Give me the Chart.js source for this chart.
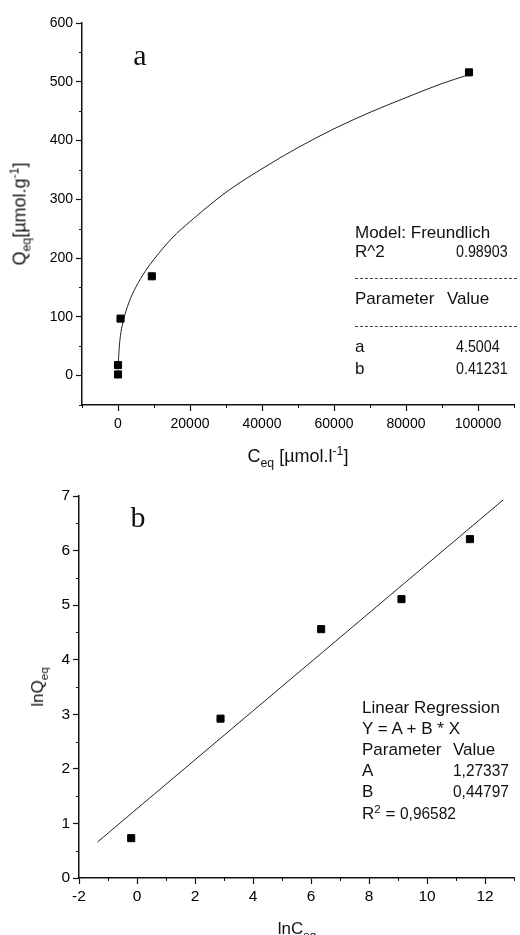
<!DOCTYPE html>
<html>
<head>
<meta charset="utf-8">
<script src="https://cdn.jsdelivr.net/npm/chart.js@4.4.1/dist/chart.umd.min.js"></script>
<style>
  html, body { margin: 0; padding: 0; background: #fff; }
  #wrap { position: relative; width: 520px; height: 935px; overflow: hidden; font-family: "Liberation Sans", Arial, sans-serif; color: #111; }
  .box { position: absolute; left: 0; width: 520px; }
  .t { position: absolute; white-space: nowrap; line-height: normal; font-size: 17px; }
  .c { transform: translate(-50%, -50%); }
  .l { transform: translate(0, -50%); }
  .rot { transform: translate(-50%, -50%) rotate(-90deg); }
  .serif { font-family: "Liberation Serif", "Times New Roman", serif; font-size: 30px; }
  .sb { font-size: .68em; position: relative; top: .4em; }
  .sp { font-size: .68em; position: relative; top: -.55em; }
  .n { display: inline-block; transform: scaleX(.84); transform-origin: 0 50%; }
  .nb { display: inline-block; transform: scaleX(.91); transform-origin: 0 50%; }
  .dash { position: absolute; height: 0; border-top: 1px dashed #444; }
</style>
</head>
<body>
<div id="wrap">
  <div class="box" style="top:0;height:475px"><canvas id="chA" width="520" height="475"></canvas></div>
  <div class="box" style="top:475px;height:460px"><canvas id="chB" width="520" height="460"></canvas></div>

  <!-- panel a -->
  <div class="t c serif" style="left:140px;top:55px">a</div>
  <div class="t rot" style="left:20px;top:214px;font-size:18px">Q<span class="sb">eq</span>[µmol.g<span class="sp">-1</span>]</div>
  <div class="t c" style="left:298px;top:456px;font-size:18px">C<span class="sb">eq</span> [µmol.l<span class="sp">-1</span>]</div>
  <div class="t l" style="left:355px;top:233px">Model: Freundlich</div>
  <div class="t l" style="left:355px;top:252px">R^2</div>
  <div class="t l" style="left:456px;top:252px"><span class="n">0.98903</span></div>
  <div class="dash" style="left:355px;width:162px;top:278px"></div>
  <div class="t l" style="left:355px;top:299px">Parameter</div>
  <div class="t l" style="left:447px;top:299px">Value</div>
  <div class="dash" style="left:355px;width:162px;top:326px"></div>
  <div class="t l" style="left:355px;top:347px">a</div>
  <div class="t l" style="left:456px;top:347px"><span class="n">4.5004</span></div>
  <div class="t l" style="left:355px;top:369px">b</div>
  <div class="t l" style="left:456px;top:369px"><span class="n">0.41231</span></div>

  <!-- panel b -->
  <div class="t c serif" style="left:138px;top:517px">b</div>
  <div class="t rot" style="left:38px;top:687px">lnQ<span class="sb">eq</span></div>
  <div class="t c" style="left:297px;top:929px">lnC<span class="sb">eq</span></div>
  <div class="t l" style="left:362px;top:708px">Linear Regression</div>
  <div class="t l" style="left:362px;top:729px">Y = A + B * X</div>
  <div class="t l" style="left:362px;top:750px">Parameter</div>
  <div class="t l" style="left:453px;top:750px">Value</div>
  <div class="t l" style="left:362px;top:771px">A</div>
  <div class="t l" style="left:453px;top:771px"><span class="nb">1,27337</span></div>
  <div class="t l" style="left:362px;top:792px">B</div>
  <div class="t l" style="left:453px;top:792px"><span class="nb">0,44797</span></div>
  <div class="t l" style="left:362px;top:814px">R<span class="sp">2</span> = <span class="nb">0,96582</span></div>
</div>

<script>
// --- a: Freundlich isotherm ---
var cA = [0, 0, 700, 9400, 97500];
var qA = [2, 18, 97, 169, 516];
// fitted curve
var fitCA = [30, 150, 400, 800, 1500, 3000, 5000, 7500, 10000, 15000, 20000, 30000, 40000, 50000, 60000, 70000, 80000, 90000, 97500];
var fitQA = [10, 28, 52, 73, 94, 124, 151, 177, 198, 234, 262, 312, 352, 388, 420, 448, 473, 497, 512];
var xTicksA = [0, 20000, 40000, 60000, 80000, 100000];
var xMinorA = [-10000, 10000, 30000, 50000, 70000, 90000, 110000];
var yTicksA = [0, 100, 200, 300, 400, 500, 600];
var yMinorA = [-50, 50, 150, 250, 350, 450, 550];

// --- b: linearised ---
var lnC = [-0.2, 2.88, 6.35, 9.12, 11.48];
var lnQ = [0.73, 2.92, 4.56, 5.11, 6.21];
var regX = [-1.36, 12.63];
var regY = [0.66, 6.93];
var xTicksB = [-2, 0, 2, 4, 6, 8, 10, 12];
var xMinorB = [-1, 1, 3, 5, 7, 9, 11, 13];
var yTicksB = [0, 1, 2, 3, 4, 5, 6, 7];
var yMinorB = [0.5, 1.5, 2.5, 3.5, 4.5, 5.5, 6.5];

var INK = '#111';
var FONT = '"Liberation Sans", Arial, sans-serif';

function pts(xs, ys) { return xs.map(function (v, i) { return { x: v, y: ys[i] }; }); }

// short minor ticks, outside the axes
var minorTicks = {
    id: 'minorTicks',
    afterDraw: function (chart, args, o) {
        var ctx = chart.ctx, a = chart.chartArea, sx = chart.scales.x, sy = chart.scales.y;
        ctx.save(); ctx.strokeStyle = INK; ctx.lineWidth = 1; ctx.beginPath();
        o.x.forEach(function (v) { var p = Math.round(sx.getPixelForValue(v)) + 0.5; ctx.moveTo(p, a.bottom); ctx.lineTo(p, a.bottom + 3); });
        o.y.forEach(function (v) { var p = Math.round(sy.getPixelForValue(v)) + 0.5; ctx.moveTo(a.left, p); ctx.lineTo(a.left - 3, p); });
        ctx.stroke(); ctx.restore();
    }
};

function axis(min, max, ticks, fontSize, pad, fit) {
    return {
        type: 'linear', min: min, max: max,
        afterBuildTicks: function (s) { s.ticks = ticks.map(function (v) { return { value: v }; }); },
        afterFit: fit,
        grid: { drawOnChartArea: false, drawTicks: true, tickLength: 6, tickColor: INK, tickWidth: 1.2 },
        border: { display: true, color: INK, width: 1.5 },
        ticks: { color: '#000', font: { family: FONT, size: fontSize }, padding: pad, maxRotation: 0, autoSkip: false,
                 callback: function (v) { return String(v); } }
    };
}

function makeChart(id, datasets, scales, pad, minor) {
    return new Chart(document.getElementById(id), {
        type: 'scatter',
        data: { datasets: datasets },
        options: {
            responsive: false, animation: false,
            layout: { padding: pad },
            plugins: { legend: { display: false }, tooltip: { enabled: false }, minorTicks: minor },
            scales: scales
        },
        plugins: [minorTicks]
    });
}

var square = { pointStyle: 'rect', pointRadius: 5, backgroundColor: '#000', borderColor: '#000', borderWidth: 1, showLine: false };

makeChart('chA', [
    Object.assign({ data: pts(cA, qA), order: 0 }, square),
    { data: pts(fitCA, fitQA), showLine: true, pointRadius: 0, borderColor: '#222', borderWidth: 1, cubicInterpolationMode: 'monotone', order: 1 }
], {
    x: axis(-10000, 110000, xTicksA, 14, 5, function (s) { s.height = 70; }),
    y: axis(-50, 600, yTicksA, 14, 3, function (s) { s.width = 82; })
}, { top: 23, right: 5, left: 0, bottom: 0 }, { x: xMinorA, y: yMinorA });

makeChart('chB', [
    Object.assign({ data: pts(lnC, lnQ), order: 0 }, square),
    { data: pts(regX, regY), showLine: true, pointRadius: 0, borderColor: '#222', borderWidth: 1, order: 1 }
], {
    x: axis(-2, 13, xTicksB, 15.5, 3, function (s) { s.height = 57; }),
    y: axis(0, 7, yTicksB, 15.5, 3, function (s) { s.width = 79; })
}, { top: 21, right: 1, left: 0, bottom: 0 }, { x: xMinorB, y: yMinorB });
</script>
</body>
</html>
